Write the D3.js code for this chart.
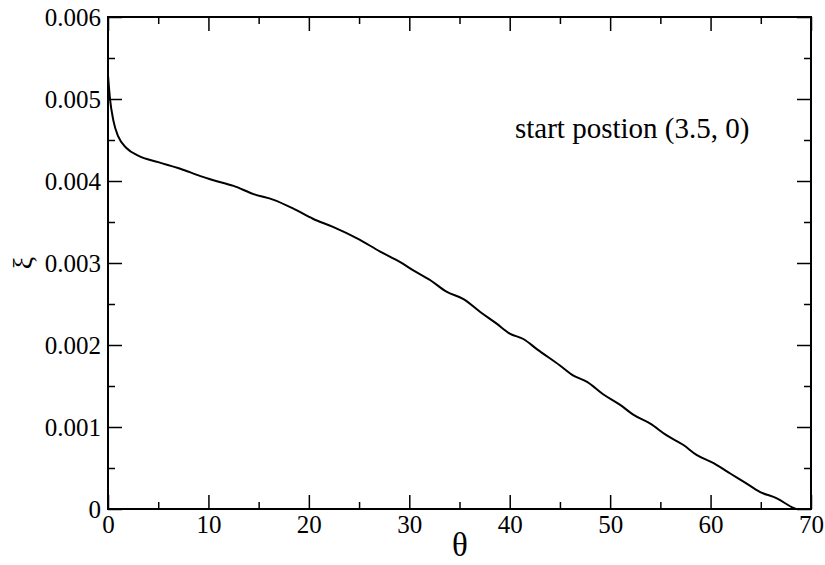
<!DOCTYPE html>
<html lang="en">
<head>
<meta charset="utf-8">
<title>xi vs theta</title>
<script src="https://d3js.org/d3.v7.min.js"></script>
<style>
    body { margin: 0; background: #fff; }
    svg text { font-family: "Liberation Serif", "DejaVu Serif", serif; fill: #000; }
</style>
</head>
<body>
<div class="plot"></div>
<script>
// curve
var theta = [0, 0.2, 0.53, 1.03, 1.86, 3.0, 5.0, 7.2, 9.2, 10.5, 12.5, 14.5, 16.5, 18.5, 20.4, 22.4, 24.8,
    27.1, 29.1, 30.4, 32.1, 33.7, 35.4, 37.1, 38.7, 40.0, 41.4, 42.7, 45.0, 46.3, 47.7, 49.3, 51.0,
    52.3, 54.0, 55.6, 57.3, 58.6, 60.3, 62.0, 63.6, 64.9, 66.6, 68.3, 68.5];
var xi = [0.00529, 0.00500, 0.00474, 0.00454, 0.00440, 0.00431, 0.00423, 0.00415, 0.00406, 0.00401,
    0.00394, 0.00384, 0.00377, 0.00366, 0.00354, 0.00344, 0.00330, 0.00314, 0.00301, 0.00291, 0.00279,
    0.00265, 0.00256, 0.00240, 0.00226, 0.00214, 0.00207, 0.00195, 0.00175, 0.00163, 0.00155, 0.00140,
    0.00127, 0.00115, 0.00104, 0.00090, 0.00078, 0.00066, 0.00056, 0.00043, 0.00031, 0.00021, 0.00013,
    0.00001, 0];
var xTicks = [0, 10, 20, 30, 40, 50, 60, 70];
var yTicks = [0, 0.001, 0.002, 0.003, 0.004, 0.005, 0.006];
var xMinor = [5, 15, 25, 35, 45, 55, 65];
var yMinor = [0.0005, 0.0015, 0.0025, 0.0035, 0.0045, 0.0055];
var note = "start postion (3.5, 0)";

var W = 825, H = 565;
var pLeft = 108, pRight = 811, pTop = 17, pBottom = 509;

var svg = d3.select(".plot").append("svg")
    .attr("width", W)
    .attr("height", H);

var x = d3.scaleLinear().domain([0, 70]).range([pLeft, pRight]);
var y = d3.scaleLinear().domain([0, 0.006]).range([pBottom, pTop]);

// ticks on all four sides, pointing inward
function tickFmt(d) { return d === 0 ? "0" : d3.format(".3f")(d); }

var gB = svg.append("g").attr("transform", "translate(0," + pBottom + ")")
    .call(d3.axisBottom(x).tickValues(xTicks).tickSize(-14).tickFormat(d3.format("d")));
svg.append("g").attr("transform", "translate(0," + pBottom + ")")
    .call(d3.axisBottom(x).tickValues(xMinor).tickSize(-7).tickFormat(""));
svg.append("g").attr("transform", "translate(0," + pTop + ")")
    .call(d3.axisTop(x).tickValues(xTicks).tickSize(-14).tickFormat(""));
svg.append("g").attr("transform", "translate(0," + pTop + ")")
    .call(d3.axisTop(x).tickValues(xMinor).tickSize(-7).tickFormat(""));
var gL = svg.append("g").attr("transform", "translate(" + pLeft + ",0)")
    .call(d3.axisLeft(y).tickValues(yTicks).tickSize(-14).tickFormat(tickFmt));
svg.append("g").attr("transform", "translate(" + pLeft + ",0)")
    .call(d3.axisLeft(y).tickValues(yMinor).tickSize(-7).tickFormat(""));
svg.append("g").attr("transform", "translate(" + pRight + ",0)")
    .call(d3.axisRight(y).tickValues(yTicks).tickSize(-14).tickFormat(""));
svg.append("g").attr("transform", "translate(" + pRight + ",0)")
    .call(d3.axisRight(y).tickValues(yMinor).tickSize(-7).tickFormat(""));

svg.selectAll("g").attr("font-family", null);
svg.selectAll(".domain").remove();
svg.selectAll(".tick line").attr("stroke", "#000").attr("stroke-width", 1.5);
svg.selectAll(".tick text").attr("font-size", 25).attr("fill", "#000");
gB.selectAll(".tick text").attr("y", 24).attr("dy", 0);
gL.selectAll(".tick text").attr("x", -7).attr("dy", "0.33em");

// frame
svg.append("rect")
    .attr("x", pLeft).attr("y", pTop)
    .attr("width", pRight - pLeft).attr("height", pBottom - pTop)
    .attr("fill", "none").attr("stroke", "#000").attr("stroke-width", 2);

// curve
var line = d3.line()
    .x((d, i) => x(theta[i]))
    .y((d, i) => y(xi[i]))
    .curve(d3.curveMonotoneX);

svg.append("path")
    .datum(xi)
    .attr("d", line)
    .attr("fill", "none")
    .attr("stroke", "#000")
    .attr("stroke-width", 2);

// labels
svg.append("text")
    .attr("x", 460)
    .attr("y", 556)
    .attr("text-anchor", "middle")
    .attr("font-size", 33)
    .text("θ");

svg.append("text")
    .attr("transform", "translate(24,263) rotate(-90)")
    .attr("text-anchor", "middle")
    .attr("dy", "0.3em")
    .attr("font-size", 28)
    .text("ξ");

svg.append("text")
    .attr("x", 515)
    .attr("y", 138)
    .attr("font-size", 29)
    .text(note);
</script>
</body>
</html>
